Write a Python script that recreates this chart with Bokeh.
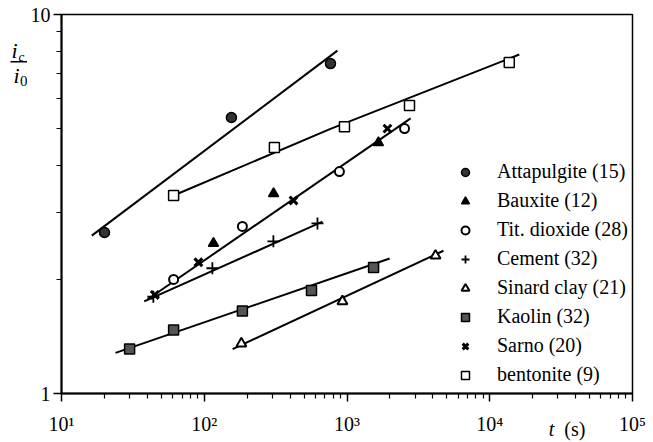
from bokeh.plotting import figure
from bokeh.layouts import row
from bokeh.models import (FixedTicker, CustomJSTickFormatter, BasicTickFormatter,
                          Legend, LegendItem, Range1d, LogAxis)
from bokeh.core.properties import value
from bokeh.embed import file_html
from bokeh.resources import INLINE

# ---------------- data ----------------
atta_t = [20, 155, 766]
atta_r = [2.66, 5.35, 7.42]
atta_line_t = [16.3, 857]
atta_line_r = [2.61, 8.03]

baux_t = [116, 306, 1660]
baux_r = [2.49, 3.37, 4.59]

tit_t = [61, 185, 885, 2530]
tit_r = [2.0, 2.76, 3.85, 5.0]

cem_t = [44, 114, 305, 621]
cem_r = [1.80, 2.14, 2.52, 2.81]
cem_line_t = [38, 673]
cem_line_r = [1.75, 2.84]

sin_t = [182, 929, 4170]
sin_r = [1.355, 1.75, 2.31]
sin_line_t = [158, 4740]
sin_line_r = [1.31, 2.38]

kao_t = [30, 61, 185, 564, 1535]
kao_r = [1.31, 1.47, 1.65, 1.87, 2.15]
kao_line_t = [23.9, 1990]
kao_line_r = [1.28, 2.27]

sarno_t = [45, 91, 422, 1920]
sarno_r = [1.82, 2.22, 3.23, 5.0]
sarno_line_t = [40, 2790]
sarno_line_r = [1.77, 5.32]

bent_t = [61, 310, 960, 2740, 13700]
bent_r = [3.33, 4.46, 5.06, 5.75, 7.47]
bent_line_t = [61, 766, 16100]
bent_line_r = [3.33, 4.99, 7.84]

labels = ["Attapulgite (15)", "Bauxite (12)", "Tit. dioxide (28)", "Cement (32)",
          "Sinard clay (21)", "Kaolin (32)", "Sarno (20)", "bentonite (9)"]

x_ticks = [10, 100, 1000, 10000, 100000]
x_tick_labels = ["10\u00b9", "10\u00b2", "10\u00b3", "10\u2074", "10\u2075"]
y_ticks = [1, 10]
x_title_parts = ["t", "(s)"]          # x title, italic "t" then upright "(s)"
x_title_at = [27100, 39500]           # where along the t axis the title pieces sit

FONT = "Liberation Serif"
H = 442
YW = 27

# ---------------- main plot ----------------
p = figure(width=623, height=H, x_axis_type="log", y_axis_type="log",
           x_range=(10, 1e5), y_range=(1, 10),
           output_backend="svg", toolbar_location=None,
           min_border_left=34, min_border_right=18, min_border_top=14, min_border_bottom=49)
p.grid.visible = False
p.outline_line_color = "black"
p.outline_line_width = 1.5
p.background_fill_color = "white"
p.border_fill_color = "white"

x_minor = [m * d for d in x_ticks[:-1] for m in range(2, 10)]
y_minor = [m for m in range(2, 10)]
p.xaxis.ticker = FixedTicker(ticks=x_ticks, minor_ticks=x_minor)
p.yaxis.ticker = FixedTicker(ticks=y_ticks, minor_ticks=y_minor)
p.xaxis.formatter = CustomJSTickFormatter(
    args=dict(labels=x_tick_labels),
    code="const i = Math.round(Math.log10(tick)) - 1; return labels[i];")
p.yaxis.formatter = BasicTickFormatter()

for ax in (p.xaxis[0], p.yaxis[0]):
    ax.axis_line_width = 2
    ax.axis_line_color = "black"
    ax.major_tick_line_color = "black"
    ax.minor_tick_line_color = "black"
    ax.major_tick_line_width = 1.5
    ax.minor_tick_line_width = 1.2
    ax.major_tick_in = 0
    ax.major_tick_out = 8
    ax.minor_tick_in = 0
    ax.minor_tick_out = 5
    ax.major_label_text_font = FONT
    ax.major_label_text_font_size = "20px"
    ax.major_label_text_color = "black"
p.xaxis.major_label_standoff = 11
p.yaxis.major_label_standoff = 3

# x title pieces as label-only axes pulled up level with the tick labels
for txt, at, style, standoff in [(x_title_parts[0], x_title_at[0], "italic", -20),
                                 (x_title_parts[1], x_title_at[1], "normal", -25)]:
    ax = LogAxis(ticker=FixedTicker(ticks=[at], minor_ticks=[]),
                 formatter=CustomJSTickFormatter(args=dict(s=txt), code="return s;"),
                 axis_line_color=None, major_tick_line_color=None, minor_tick_line_color=None,
                 major_tick_in=0, major_tick_out=0, minor_tick_in=0, minor_tick_out=0,
                 major_label_standoff=standoff, major_label_text_font=FONT,
                 major_label_text_font_size="20px", major_label_text_font_style=style,
                 major_label_text_color="black")
    p.add_layout(ax, "below")

# ---------------- fitted lines ----------------
for lt, lr in [(atta_line_t, atta_line_r), (cem_line_t, cem_line_r),
               (sin_line_t, sin_line_r), (kao_line_t, kao_line_r),
               (sarno_line_t, sarno_line_r), (bent_line_t, bent_line_r)]:
    p.line(lt, lr, line_color="black", line_width=2)

# ---------------- markers ----------------
r_atta = p.scatter(atta_t, atta_r, marker="circle", size=10, fill_color="#333333",
                   line_color="black", line_width=1.5)
r_baux = p.scatter(baux_t, baux_r, marker="triangle", size=10, fill_color="black",
                   line_color="black", line_width=1.5)
r_tit = p.scatter(tit_t, tit_r, marker="circle", size=9, fill_color="white",
                  line_color="black", line_width=2)
r_cem = p.scatter(cem_t, cem_r, marker="cross", size=12, line_color="black", line_width=1.8)
r_sin = p.scatter(sin_t, sin_r, marker="triangle", size=10, fill_color="white",
                  line_color="black", line_width=2)
r_kao = p.scatter(kao_t, kao_r, marker="square", size=10, fill_color="#555555",
                  line_color="black", line_width=1.5)
r_sarno = p.scatter(sarno_t, sarno_r, marker="x", size=11, line_color="black", line_width=3)
r_bent = p.scatter(bent_t, bent_r, marker="square", size=10, fill_color="white",
                   line_color="black", line_width=1.5)

renderers = [r_atta, r_baux, r_tit, r_cem, r_sin, r_kao, r_sarno, r_bent]
legend = Legend(items=[LegendItem(label=l, renderers=[r]) for l, r in zip(labels, renderers)],
                location=(394, 7), border_line_color=None, background_fill_alpha=0,
                padding=0, margin=0, spacing=6, label_height=23, glyph_height=20,
                glyph_width=20, label_standoff=22, label_text_font=FONT,
                label_text_font_size="20px", label_text_color="black")
p.add_layout(legend)

# ---------------- y title: the fraction i_c / i_0 (separate narrow panel) ----------------
yl = figure(width=YW, height=H, x_range=Range1d(0, YW), y_range=Range1d(0, H),
            output_backend="svg", toolbar_location=None, title=None,
            x_axis_location=None, y_axis_location=None,
            min_border=0, min_border_left=0, min_border_right=0,
            min_border_top=0, min_border_bottom=0)
yl.grid.visible = False
yl.outline_line_color = None
yl.border_fill_color = "white"
yl.background_fill_color = "white"

# vertical centres (from the top) of each piece of the fraction
yl.text(x=[11, 13], y=[H - 42, H - 71], text=["i", "i"], text_font=value(FONT),
        text_font_size="22px", text_font_style="italic", text_baseline="middle",
        text_color="black")
yl.text(x=[18], y=[H - 49], text=["c"], text_font=value(FONT),
        text_font_size="13px", text_font_style="italic", text_baseline="middle",
        text_color="black")
yl.text(x=[19.5], y=[H - 78], text=["0"], text_font=value(FONT),
        text_font_size="15px", text_baseline="middle", text_color="black")
yl.segment(x0=[10], y0=[H - 55], x1=[27], y1=[H - 55], line_color="black", line_width=1.5)

layout = row(yl, p, spacing=0)
open("out.html", "w").write(file_html(layout, INLINE))
